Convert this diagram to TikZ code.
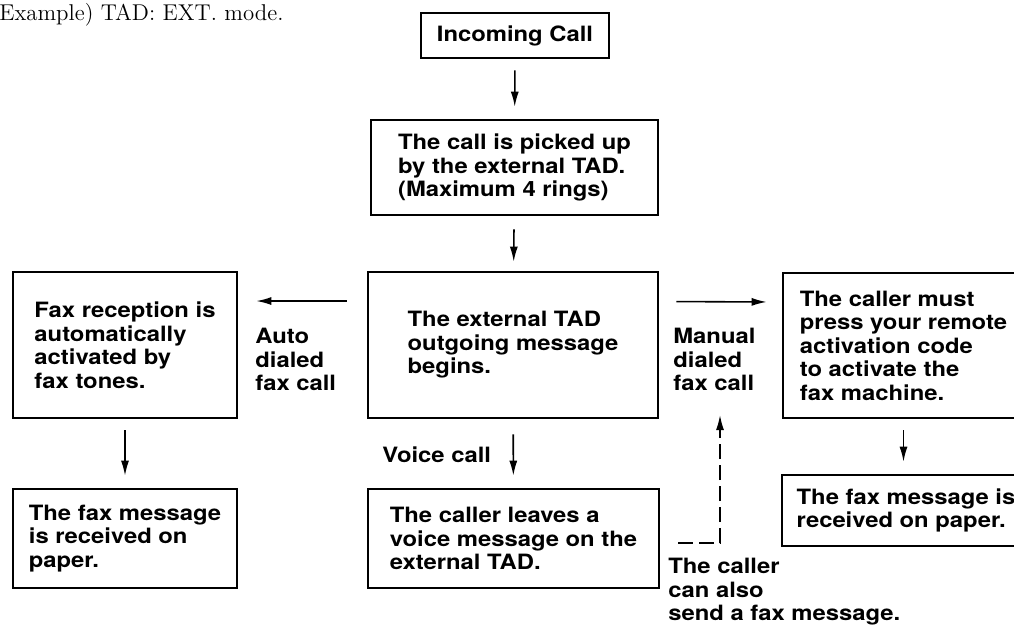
\documentclass[tikz,border=0pt]{standalone}
\usepackage{fontspec}
\newfontfamily\helv[FakeStretch=1.13]{TeX Gyre Heros}
\usetikzlibrary{arrows.meta,positioning,calc}

\begin{document}
\begin{tikzpicture}[x=0.02cm, y=-0.02cm,
    stepbox/.style={rectangle, draw, line width=1.5pt, inner sep=0pt, align=left,
      font=\helv\bfseries\fontsize{12pt}{13.4pt}\selectfont},
    tag/.style={inner sep=0pt, align=left, anchor=north west,
      font=\helv\bfseries\fontsize{12pt}{13.4pt}\selectfont},
    flow/.style={-{Latex[length=0.3cm, width=0.16cm]}, line width=0.9pt,
      shorten <=0.22cm, shorten >=0.24cm},
    back/.style={-{Latex[length=0.3cm, width=0.16cm]}, line width=0.9pt,
      dash pattern=on 0.3cm off 0.12cm}
  ]
    \useasboundingbox (0,0) rectangle (1014,627);
    % Heading
    \node[anchor=base west, inner sep=0pt, font=\fontsize{13pt}{15pt}\selectfont] (mode) at (-1,20) {Example) TAD: EXT. mode.};
    % Main column
    \node[stepbox, minimum width=3.76cm, minimum height=0.9cm] (call) at (515,35.5) {Incoming Call};
    \node[stepbox, minimum width=5.74cm, minimum height=1.9cm] (pickup) at (514.5,167.5) {
      The call is picked up\\
      by the external TAD.\\
      (Maximum 4 rings)};
    \node[stepbox, minimum width=5.8cm, minimum height=2.92cm] (ogm) at (513,345) {
      The external TAD\\
      outgoing message\\
      begins.};
    \node[stepbox, minimum width=5.82cm, minimum height=1.98cm] (voice) at (513.5,538.5) {
      The caller leaves a\\
      voice message on the\\
      external TAD.};
    % Side boxes
    \node[stepbox, minimum width=4.48cm, minimum height=2.92cm] (autorx) at (125,345) {
      Fax reception is\\
      automatically\\
      activated by\\
      fax tones.};
    \node[stepbox, minimum width=4.48cm, minimum height=1.98cm] (paperL) at (125,538.5) {
      The fax message\\
      is received on\\
      paper.};
    \node[stepbox, minimum width=4.82cm, minimum height=2.9cm] (remote) at (903.5,345.5) {
      The caller must\\
      press your remote\\
      activation code\\
      to activate the\\
      fax machine.};
    \node[stepbox, minimum width=4.96cm, minimum height=1.42cm] (paperR) at (906,510.5) {
      The fax message is\\
      received on paper.};
    % Labels
    \node[tag] (auto) at (255,328) {Auto\\dialed\\fax call};
    \node[tag] (manual) at (673,328) {Manual\\dialed\\fax call};
    \node[tag, anchor=base west] (voicetag) at (382,462) {Voice call};
    \node[tag] (also) at (668,558) {The caller\\can also\\send a fax message.};
    % Arrows
    \draw[flow] (call) -- (pickup);
    \draw[flow, shorten <=0.26cm, shorten >=0.18cm] (pickup) -- (ogm);
    \draw[flow, shorten <=0.3cm] (ogm) -- (voice);
    \draw[flow, shorten <=0.4cm, shorten >=0.36cm] ([yshift=0.88cm]ogm.west) -- ([yshift=0.88cm]autorx.east);
    \draw[flow, shorten <=0.34cm, shorten >=0.3cm] ([yshift=0.87cm]ogm.east) -- ([yshift=0.87cm]remote.west);
    \draw[flow] (autorx) -- (paperL);
    \draw[flow] (remote.south) -- (remote.south |- paperR.north);
    % Dashed return
    \coordinate (dashfrom) at (678,543);
    \coordinate (dashto) at (720,415);
    \draw[back] (dashfrom) -| (dashto);
  \end{tikzpicture}
\end{document}
